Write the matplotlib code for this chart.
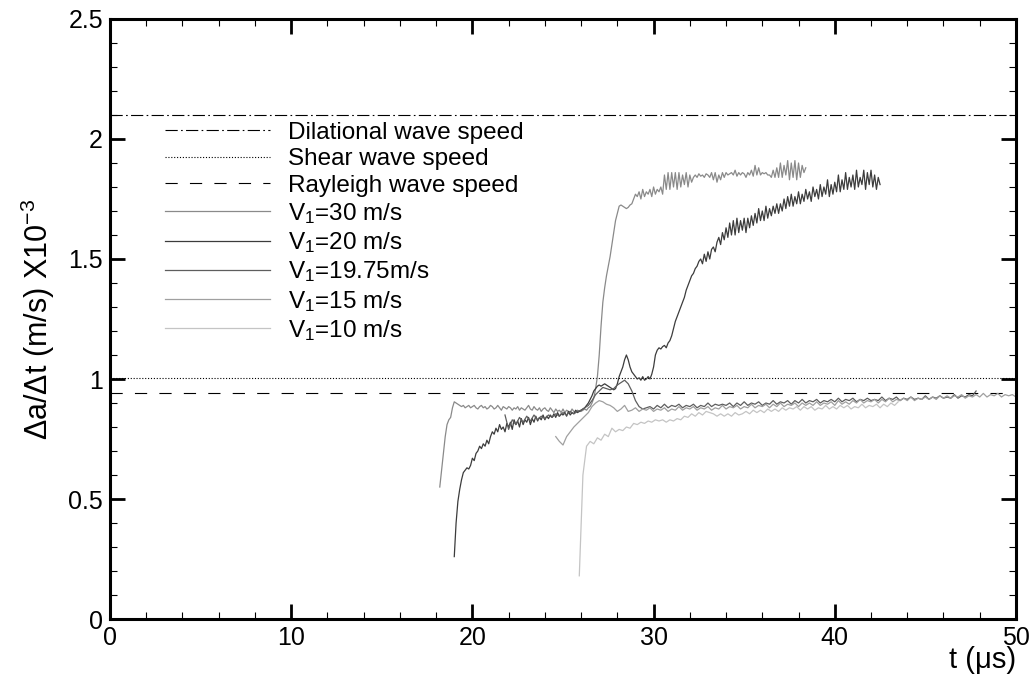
"""
Crack speed histories for several impact velocities.
"""
import numpy as np
import matplotlib
matplotlib.use("Agg")
import matplotlib.pyplot as plt
from matplotlib.ticker import MultipleLocator

plt.rcParams['font.family'] = ['Liberation Sans', 'DejaVu Sans']
plt.rcParams['mathtext.fontset'] = 'custom'
plt.rcParams['mathtext.rm'] = 'Liberation Sans'
plt.rcParams['mathtext.it'] = 'Liberation Sans:italic'

# Reference wave speeds (x10^-3 m/s)
dilational_speed = 2.1
shear_speed = 1.005
rayleigh_speed = 0.94

# V1 = 30 m/s, sampled every 0.1 us from 18.2 us
v30_t0, v30_dt = 18.2, 0.1
v30 = [
    0.55, 0.62, 0.69, 0.76, 0.81, 0.83, 0.84, 0.88,
    0.905, 0.90, 0.895, 0.89, 0.885, 0.89, 0.88, 0.885, 0.89, 0.88,
    0.885, 0.89, 0.88, 0.875, 0.885, 0.89, 0.88, 0.885, 0.875, 0.88,
    0.89, 0.885, 0.875, 0.88, 0.89, 0.88, 0.87, 0.885, 0.88, 0.875,
    0.885, 0.88, 0.87, 0.88, 0.875, 0.885, 0.87, 0.88, 0.875, 0.87,
    0.88, 0.89, 0.875, 0.87, 0.885, 0.875, 0.87, 0.88, 0.865, 0.875,
    0.88, 0.87, 0.865, 0.88, 0.87, 0.86, 0.875, 0.865, 0.87, 0.86,
    0.875, 0.86, 0.87, 0.865, 0.86, 0.875, 0.865, 0.86, 0.87, 0.865,
    0.865, 0.87, 0.875, 0.87, 0.88, 0.885, 0.90, 0.92, 0.96, 1.01,
    1.10, 1.22, 1.32, 1.38, 1.43, 1.47, 1.51, 1.56, 1.61, 1.66,
    1.69, 1.72, 1.725, 1.72, 1.715, 1.71, 1.715, 1.725, 1.73, 1.75,
    1.77, 1.76, 1.78, 1.75, 1.79, 1.76, 1.78, 1.77, 1.79, 1.76,
    1.80, 1.77, 1.79, 1.78, 1.80, 1.77, 1.85, 1.79, 1.86, 1.79,
    1.86, 1.80, 1.86, 1.79, 1.86, 1.80, 1.85, 1.81, 1.86, 1.80,
    1.85, 1.82, 1.84, 1.85, 1.84, 1.855, 1.845, 1.85, 1.84, 1.855,
    1.85, 1.84, 1.86, 1.83, 1.86, 1.82, 1.85, 1.83, 1.86, 1.84,
    1.86, 1.85, 1.855, 1.86, 1.85, 1.87, 1.845, 1.86, 1.85, 1.86,
    1.855, 1.84, 1.86, 1.85, 1.87, 1.845, 1.89, 1.85, 1.88, 1.85,
    1.86, 1.855, 1.86, 1.85, 1.85, 1.84, 1.87, 1.84, 1.88, 1.84,
    1.90, 1.84, 1.89, 1.85, 1.91, 1.83, 1.90, 1.84, 1.91, 1.83,
    1.90, 1.84, 1.89, 1.86, 1.88,
]

# V1 = 20 m/s, sampled every 0.1 us from 19.0 us
v20_t0, v20_dt = 19.0, 0.1
v20 = [
    0.26, 0.40, 0.49, 0.54, 0.58, 0.61, 0.62, 0.63, 0.625, 0.64,
    0.67, 0.66, 0.69, 0.70, 0.72, 0.71, 0.73, 0.72, 0.745, 0.73,
    0.76, 0.78, 0.77, 0.795, 0.78, 0.81, 0.79, 0.80, 0.78, 0.815,
    0.80, 0.82, 0.79, 0.83, 0.81, 0.825, 0.80, 0.835, 0.81, 0.83,
    0.82, 0.84, 0.81, 0.835, 0.82, 0.845, 0.825, 0.84, 0.83, 0.85,
    0.83, 0.845, 0.835, 0.85, 0.84, 0.855, 0.84, 0.86, 0.845, 0.855,
    0.85, 0.86, 0.845, 0.865, 0.85, 0.86, 0.855, 0.87, 0.86, 0.865,
    0.87, 0.875, 0.88, 0.89, 0.90, 0.915, 0.93, 0.95, 0.96, 0.97,
    0.975, 0.97, 0.975, 0.98, 0.975, 0.97, 0.965, 0.96, 0.955, 0.96,
    0.98, 1.01, 1.03, 1.05, 1.08, 1.10, 1.08, 1.05, 1.03, 1.02,
    1.01, 1.00, 1.005, 0.995, 1.01, 0.995, 1.00, 1.01, 1.00, 1.02,
    1.05, 1.10, 1.12, 1.13, 1.125, 1.135, 1.14, 1.13, 1.15, 1.16,
    1.18, 1.21, 1.24, 1.26, 1.28, 1.30, 1.32, 1.34, 1.37, 1.39,
    1.41, 1.43, 1.44, 1.46, 1.47, 1.49, 1.50, 1.48, 1.52, 1.49,
    1.53, 1.50, 1.54, 1.55, 1.53, 1.57, 1.59, 1.56, 1.61, 1.58,
    1.63, 1.59, 1.65, 1.60, 1.66, 1.60, 1.67, 1.61, 1.66, 1.62,
    1.67, 1.61, 1.67, 1.63, 1.68, 1.64, 1.69, 1.65, 1.71, 1.66,
    1.70, 1.66, 1.72, 1.67, 1.71, 1.68, 1.72, 1.69, 1.73, 1.69,
    1.73, 1.70, 1.75, 1.71, 1.76, 1.72, 1.77, 1.72, 1.76, 1.73,
    1.78, 1.73, 1.77, 1.74, 1.79, 1.75, 1.78, 1.74, 1.80, 1.76,
    1.79, 1.75, 1.81, 1.76, 1.80, 1.77, 1.83, 1.76, 1.81, 1.77,
    1.82, 1.78, 1.85, 1.78, 1.83, 1.79, 1.86, 1.79, 1.84, 1.80,
    1.85, 1.79, 1.87, 1.80, 1.84, 1.81, 1.87, 1.79, 1.86, 1.81,
    1.87, 1.80, 1.85, 1.79, 1.84, 1.81,
]

# V1 = 19.75 m/s, sampled every 0.2 us from 21.8 us
v1975_t0, v1975_dt = 21.8, 0.2
v1975 = [
    0.85, 0.79, 0.83, 0.81, 0.84, 0.82, 0.845, 0.825, 0.85, 0.83,
    0.845, 0.835, 0.85, 0.84, 0.855, 0.845, 0.86, 0.85, 0.865, 0.855,
    0.865, 0.87, 0.88, 0.89, 0.91, 0.935, 0.95, 0.965, 0.96, 0.955,
    0.96, 0.975, 0.985, 0.995, 0.98, 0.95, 0.91, 0.885, 0.875, 0.88,
    0.885, 0.875, 0.89, 0.88, 0.895, 0.88, 0.89, 0.885, 0.895, 0.88,
    0.89, 0.885, 0.895, 0.88, 0.89, 0.885, 0.90, 0.885, 0.895, 0.89,
    0.895, 0.89, 0.90, 0.885, 0.90, 0.89, 0.905, 0.89, 0.90, 0.895,
    0.905, 0.89, 0.90, 0.895, 0.91, 0.895, 0.905, 0.90, 0.91, 0.895,
    0.91, 0.90, 0.915, 0.90, 0.91, 0.905, 0.915, 0.90, 0.91, 0.905,
    0.915, 0.905, 0.92, 0.905, 0.915, 0.91, 0.92, 0.905, 0.915, 0.91,
    0.92, 0.91, 0.915, 0.91, 0.925, 0.91, 0.92, 0.915, 0.925, 0.91,
    0.92, 0.915, 0.925, 0.915, 0.92, 0.915, 0.93, 0.915, 0.925, 0.92,
    0.93, 0.92, 0.925, 0.92, 0.935, 0.92, 0.93, 0.925, 0.935, 0.93, 0.95,
]

# V1 = 15 m/s, sampled every 0.2 us from 24.6 us
v15_t0, v15_dt = 24.6, 0.2
v15 = [
    0.76, 0.74, 0.725, 0.76, 0.78, 0.80, 0.815, 0.83, 0.845, 0.86,
    0.885, 0.90, 0.91, 0.905, 0.895, 0.89, 0.88, 0.865, 0.875, 0.89,
    0.865, 0.87, 0.88, 0.865, 0.875, 0.87, 0.88, 0.865, 0.875, 0.87,
    0.88, 0.865, 0.875, 0.87, 0.885, 0.87, 0.88, 0.875, 0.885, 0.87,
    0.88, 0.875, 0.885, 0.87, 0.88, 0.875, 0.89, 0.875, 0.885, 0.88,
    0.89, 0.875, 0.885, 0.88, 0.895, 0.88, 0.89, 0.885, 0.895, 0.88,
    0.895, 0.885, 0.90, 0.885, 0.895, 0.89, 0.90, 0.885, 0.90, 0.89,
    0.90, 0.89, 0.905, 0.89, 0.90, 0.895, 0.905, 0.89, 0.91, 0.895,
    0.905, 0.895, 0.91, 0.90, 0.915, 0.90, 0.91, 0.905, 0.915, 0.90,
    0.915, 0.905, 0.92, 0.905, 0.915, 0.91, 0.92, 0.91, 0.925, 0.91,
    0.92, 0.915, 0.925, 0.915, 0.925, 0.915, 0.93, 0.92, 0.93, 0.92,
    0.93, 0.925, 0.935, 0.92, 0.93, 0.925, 0.935, 0.925, 0.94, 0.925,
    0.935, 0.93, 0.94, 0.925, 0.935, 0.93, 0.935, 0.925,
]

# V1 = 10 m/s, sampled every 0.2 us from 25.9 us
v10_t0, v10_dt = 25.9, 0.2
v10 = [
    0.18, 0.60, 0.72, 0.74, 0.73, 0.755, 0.745, 0.77, 0.76, 0.795,
    0.78, 0.79, 0.785, 0.80, 0.795, 0.815, 0.81, 0.82, 0.815, 0.825,
    0.82, 0.83, 0.825, 0.83, 0.82, 0.83, 0.825, 0.835, 0.83, 0.845,
    0.84, 0.855, 0.845, 0.86, 0.85, 0.865, 0.86, 0.855, 0.845, 0.855,
    0.845, 0.855, 0.845, 0.86, 0.85, 0.855, 0.865, 0.855, 0.87, 0.86,
    0.87, 0.86, 0.875, 0.865, 0.875, 0.865, 0.88, 0.87, 0.88, 0.875,
    0.885, 0.87, 0.885, 0.875, 0.885, 0.87, 0.88, 0.875, 0.89, 0.875,
    0.885, 0.875, 0.89, 0.88, 0.89, 0.875, 0.885, 0.88, 0.895, 0.88,
    0.89, 0.885, 0.895, 0.88, 0.895, 0.885, 0.90, 0.89, 0.905,
]

series = [
    ('V$_1$=30 m/s', v30_t0, v30_dt, v30, '#8a8a8a'),
    ('V$_1$=20 m/s', v20_t0, v20_dt, v20, '#3c3c3c'),
    ('V$_1$=19.75m/s', v1975_t0, v1975_dt, v1975, '#5e5e5e'),
    ('V$_1$=15 m/s', v15_t0, v15_dt, v15, '#a0a0a0'),
    ('V$_1$=10 m/s', v10_t0, v10_dt, v10, '#c4c4c4'),
]

fig = plt.figure(figsize=(10.33, 6.78), dpi=100)
ax = fig.add_axes([0.1065, 0.087, 0.877, 0.885])

ax.axhline(dilational_speed, color='black', lw=0.8, dashes=(11, 3, 1.5, 3),
           label='Dilational wave speed')
ax.axhline(shear_speed, color='black', lw=0.8, dashes=(1, 1.6),
           label='Shear wave speed')
ax.axhline(rayleigh_speed, color='black', lw=0.8, dashes=(11, 11),
           label='Rayleigh wave speed')

for label, t0, dt, vals, col in series:
    t = t0 + dt * np.arange(len(vals))
    ax.plot(t, vals, color=col, lw=0.9, label=label)

ax.set_xlim(0, 50)
ax.set_ylim(0, 2.5)
ax.xaxis.set_major_locator(MultipleLocator(10))
ax.xaxis.set_minor_locator(MultipleLocator(2))
ax.yaxis.set_major_locator(MultipleLocator(0.5))
ax.yaxis.set_minor_locator(MultipleLocator(0.1))
ax.yaxis.set_major_formatter(plt.FuncFormatter(lambda v, p: f'{v:g}'))
ax.tick_params(which='both', direction='in', top=True, right=True,
               labelsize=18, color='black')
ax.tick_params(which='major', length=11, width=2, pad=5)
ax.tick_params(which='minor', length=5, width=0.8)
for sp in ax.spines.values():
    sp.set_linewidth(2.2)

ax.set_ylabel('Δa/Δt (m/s) X10$^{-3}$', fontsize=22, labelpad=8)
ax.set_xlabel('t (μs)', fontsize=21)
ax.xaxis.set_label_coords(1.0, -0.045, transform=ax.transAxes)
ax.xaxis.label.set_horizontalalignment('right')
ax.xaxis.label.set_verticalalignment('top')

ax.legend(loc='upper left', bbox_to_anchor=(0.05, 0.845), frameon=False,
          fontsize=17.5, handlelength=4.3, handletextpad=0.75,
          labelspacing=0.18, borderaxespad=0)

fig.savefig('out.png', dpi=100)
